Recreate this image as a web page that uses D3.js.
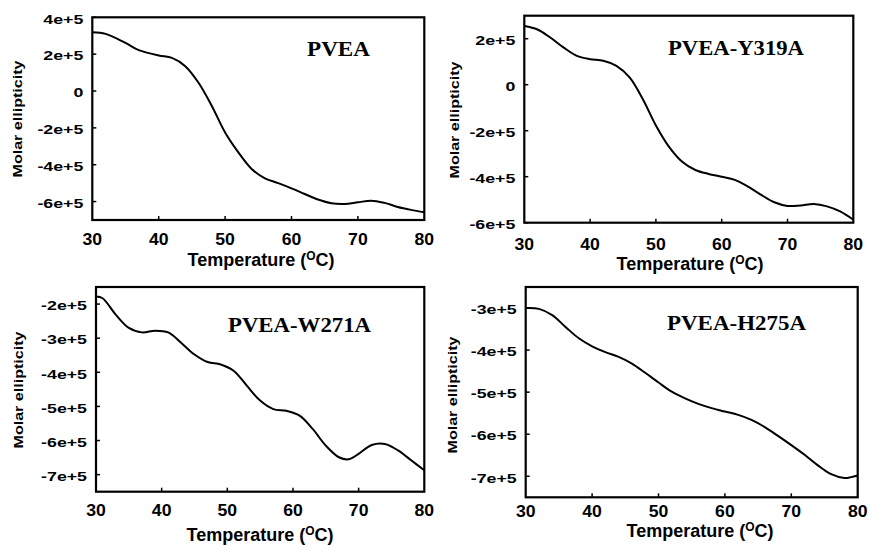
<!DOCTYPE html>
<html>
<head>
<meta charset="utf-8">
<script src="https://cdn.jsdelivr.net/npm/d3@7"></script>
<style>
  body { margin: 0; background: #fff; }
  svg { display: block; }
  .tick-y, .tick-x, .axis-title { font-family: "Liberation Sans", Arial, sans-serif; font-weight: bold; fill: #000; }
  .name { font-family: "Liberation Serif", "Times New Roman", serif; font-weight: bold; fill: #000; }
</style>
</head>
<body>
<div id="chart"></div>
<script>
// x axis shared by all four panels
const xTicks = [30, 40, 50, 60, 70, 80];

// PVEA
const tempPVEA = [30, 32, 35, 37, 40, 42, 44, 46, 48, 50, 52, 54, 56, 58, 60, 62, 64, 66, 68, 70, 72, 74, 76, 78, 80];
const ellipPVEA = [3.19e5, 3.10e5, 2.61e5, 2.22e5, 1.93e5, 1.80e5, 1.35e5, 0.45e5, -0.81e5, -2.25e5, -3.33e5, -4.23e5, -4.74e5,
  -5.00e5, -5.28e5, -5.59e5, -5.89e5, -6.09e5, -6.13e5, -6.04e5, -5.95e5, -6.07e5, -6.29e5, -6.45e5, -6.58e5];
const yTicksPVEA = [-6e5, -4e5, -2e5, 0, 2e5, 4e5];

// PVEA-Y319A
const tempY319A = [30, 32, 34, 36, 38, 40, 42, 44, 46, 48, 50, 52, 54, 56, 58, 60, 62, 64, 66, 68, 70, 72, 74, 76, 78, 80];
const ellipY319A = [2.55e5, 2.40e5, 2.04e5, 1.61e5, 1.25e5, 1.11e5, 1.04e5, 0.82e5, 0.32e5, -0.62e5, -1.77e5, -2.70e5, -3.35e5,
  -3.71e5, -3.88e5, -4.00e5, -4.14e5, -4.43e5, -4.79e5, -5.11e5, -5.27e5, -5.25e5, -5.19e5, -5.29e5, -5.51e5, -5.87e5];
const yTicksY319A = [-6e5, -4e5, -2e5, 0, 2e5];

// PVEA-W271A
const tempW271A = [30, 31, 33, 35, 37, 39, 41, 43, 45, 47, 49, 51, 53, 55, 57, 59, 61, 63, 65, 67, 68.5, 70, 72, 74, 76, 78, 80];
const ellipW271A = [-1.78e5, -1.83e5, -2.31e5, -2.70e5, -2.83e5, -2.78e5, -2.83e5, -3.14e5, -3.48e5, -3.70e5, -3.77e5, -3.96e5,
  -4.40e5, -4.83e5, -5.08e5, -5.13e5, -5.27e5, -5.66e5, -6.15e5, -6.49e5, -6.55e5, -6.39e5, -6.13e5, -6.10e5, -6.29e5, -6.58e5, -6.87e5];
const yTicksW271A = [-7e5, -6e5, -5e5, -4e5, -3e5, -2e5];

// PVEA-H275A
const tempH275A = [30, 32, 34, 36, 38, 40, 42, 44, 46, 48, 50, 52, 54, 56, 58, 60, 62, 64, 66, 68, 70, 72, 74, 76, 78, 79, 80];
const ellipH275A = [-3.00e5, -3.02e5, -3.17e5, -3.45e5, -3.72e5, -3.91e5, -4.05e5, -4.16e5, -4.32e5, -4.54e5, -4.77e5, -4.99e5,
  -5.15e5, -5.28e5, -5.38e5, -5.46e5, -5.54e5, -5.66e5, -5.83e5, -6.04e5, -6.26e5, -6.49e5, -6.74e5, -6.95e5, -7.04e5, -7.02e5, -6.98e5];
const yTicksH275A = [-7e5, -6e5, -5e5, -4e5, -3e5];

const names = ['PVEA', 'PVEA-Y319A', 'PVEA-W271A', 'PVEA-H275A'];
const yDomains = [[-7e5, 4e5], [-6e5, 3e5], [-7.5e5, -1.5e5], [-7.5e5, -2.5e5]];

const panels = [
  {temp: tempPVEA, ellip: ellipPVEA, yTicks: yTicksPVEA,
   box: {l: 92.3, r: 424.3, t: 17.3, b: 220}, xtY: 245, xtitle: [261, 266], ylab: [18, 119], name: [307, 56, 63]},
  {temp: tempY319A, ellip: ellipY319A, yTicks: yTicksY319A,
   box: {l: 524.3, r: 853.3, t: 15.7, b: 222.7}, xtY: 250, xtitle: [690, 270], ylab: [455, 120], name: [668, 55, 136]},
  {temp: tempW271A, ellip: ellipW271A, yTicks: yTicksW271A,
   box: {l: 96, r: 424.3, t: 287, b: 491.7}, xtY: 516, xtitle: [260, 541], ylab: [19, 390], name: [228, 332, 143]},
  {temp: tempH275A, ellip: ellipH275A, yTicks: yTicksH275A,
   box: {l: 525.7, r: 857.7, t: 287, b: 497.3}, xtY: 517, xtitle: [700, 537], ylab: [453, 395], name: [667, 330, 139]}
];

const fmtY = v => v === 0 ? '0' : (v / 1e5) + 'e+5';

// widen text along its baseline, the figure's labels look horizontally stretched
function stretch(sel, k) {
  sel.each(function () {
    const w = this.getComputedTextLength();
    d3.select(this).attr('textLength', w * k).attr('lengthAdjust', 'spacingAndGlyphs');
  });
}

const svg = d3.select('#chart').append('svg')
  .attr('width', 869)
  .attr('height', 545);

svg.append('rect').attr('width', 869).attr('height', 545).attr('fill', '#fff');

panels.forEach((p, i) => {
  const b = p.box;
  const x = d3.scaleLinear().domain([30, 80]).range([b.l, b.r]);
  const y = d3.scaleLinear().domain(yDomains[i]).range([b.b, b.t]);
  const g = svg.append('g');

  // ticks, pointing inward
  g.selectAll('line.xt').data(xTicks.slice(1, -1)).enter().append('line')
    .attr('x1', d => x(d)).attr('x2', d => x(d))
    .attr('y1', b.b).attr('y2', b.b - 4)
    .attr('stroke', '#000').attr('stroke-width', 1.5);
  g.selectAll('line.yt').data(p.yTicks).enter().append('line')
    .attr('x1', b.l).attr('x2', b.l + 4)
    .attr('y1', d => y(d)).attr('y2', d => y(d))
    .attr('stroke', '#000').attr('stroke-width', 1.5);

  // curve
  const line = d3.line()
    .x(d => x(d[0]))
    .y(d => y(d[1]))
    .curve(d3.curveCatmullRom.alpha(0.5));
  g.append('path')
    .datum(d3.zip(p.temp, p.ellip))
    .attr('d', line)
    .attr('fill', 'none')
    .attr('stroke', '#000')
    .attr('stroke-width', 2);

  // frame
  g.append('rect')
    .attr('x', b.l).attr('y', b.t)
    .attr('width', b.r - b.l).attr('height', b.b - b.t)
    .attr('fill', 'none').attr('stroke', '#000').attr('stroke-width', 2.2);

  // tick labels
  const yl = g.selectAll('text.tick-y').data(p.yTicks).enter().append('text')
    .attr('class', 'tick-y')
    .attr('x', b.l - 9)
    .attr('y', d => y(d))
    .attr('dy', '0.5em')
    .attr('text-anchor', 'end')
    .style('font-size', '12.5px')
    .text(fmtY);
  stretch(yl, 1.42);

  const xl = g.selectAll('text.tick-x').data(xTicks).enter().append('text')
    .attr('class', 'tick-x')
    .attr('x', d => x(d))
    .attr('y', p.xtY)
    .attr('text-anchor', 'middle')
    .style('font-size', '16px')
    .text(d => d);
  stretch(xl, 1.1);

  // axis titles
  const xt = g.append('text')
    .attr('class', 'axis-title')
    .attr('x', p.xtitle[0]).attr('y', p.xtitle[1])
    .attr('text-anchor', 'middle')
    .style('font-size', '18px');
  xt.append('tspan').text('Temperature (');
  xt.append('tspan').text('O').style('font-size', '12px').attr('dy', -6);
  xt.append('tspan').text('C)').attr('dy', 6);

  g.append('text')
    .attr('class', 'axis-title')
    .attr('transform', `translate(${p.ylab[0]},${p.ylab[1]}) rotate(-90)`)
    .attr('text-anchor', 'middle')
    .attr('dy', '0.35em')
    .attr('textLength', 117)
    .attr('lengthAdjust', 'spacingAndGlyphs')
    .style('font-size', '12.5px')
    .text('Molar ellipticity');

  // sample name
  g.append('text')
    .attr('class', 'name')
    .attr('x', p.name[0]).attr('y', p.name[1])
    .attr('textLength', p.name[2])
    .attr('lengthAdjust', 'spacingAndGlyphs')
    .style('font-size', '20px')
    .text(names[i]);
});
</script>
</body>
</html>
